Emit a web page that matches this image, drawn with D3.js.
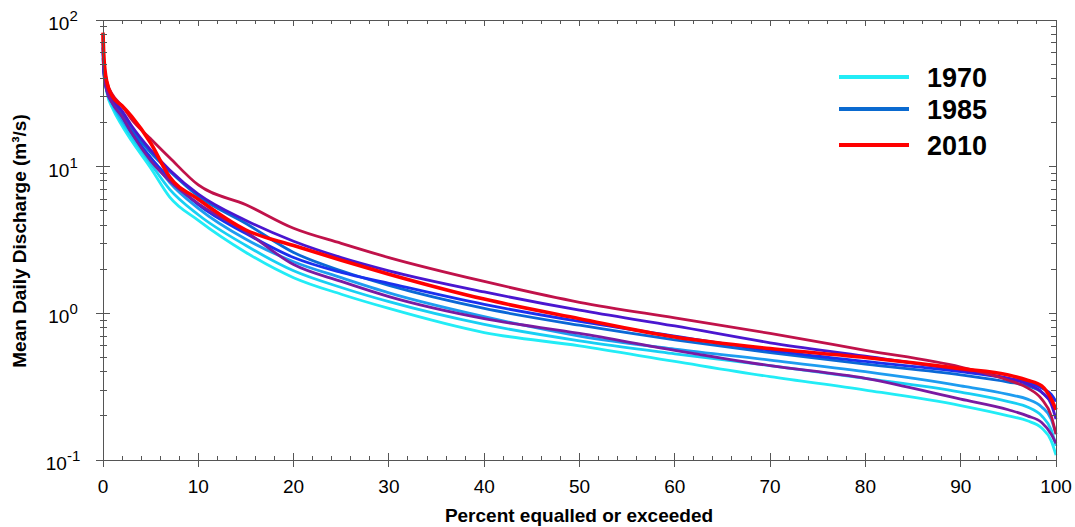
<!DOCTYPE html>
<html>
<head>
<meta charset="utf-8">
<script src="https://cdn.jsdelivr.net/npm/d3@7/dist/d3.min.js"></script>
<style>
  html, body { margin: 0; padding: 0; background: #fff; }
  svg { display: block; font-family: "Liberation Sans", Arial, sans-serif; }
</style>
</head>
<body>
<svg id="chart" width="1075" height="527"></svg>
<script>
// ---------------- DATA ----------------
const percent = [0, 0.1, 0.4, 1, 2, 3, 5, 7, 10, 15, 20, 25, 30, 40, 50, 60, 70, 80, 90, 95, 97, 98.5, 99.5, 100];
const years = [1970, 1975, 1980, 1985, 1990, 1995, 2000, 2005, 2010];
const flow1970 = [75, 48, 32, 25, 19, 15, 9.8, 6.2, 4.3, 2.6, 1.75, 1.35, 1.08, 0.74, 0.60, 0.47, 0.37, 0.30, 0.235, 0.20, 0.185, 0.165, 0.135, 0.108];
const flow1975 = [70, 46, 33, 26, 20, 16, 10.5, 7.0, 4.7, 2.9, 1.95, 1.5, 1.2, 0.84, 0.65, 0.53, 0.44, 0.36, 0.29, 0.25, 0.23, 0.2, 0.16, 0.125];
const flow1980 = [65, 45, 34, 27, 21, 17, 11.5, 7.8, 5.2, 3.2, 2.25, 1.75, 1.38, 0.95, 0.70, 0.57, 0.48, 0.40, 0.32, 0.28, 0.26, 0.23, 0.19, 0.15];
const flow1985 = [55, 44, 35, 28, 23, 18, 12.5, 9.3, 6.3, 4.1, 2.6, 1.95, 1.55, 1.08, 0.83, 0.66, 0.54, 0.45, 0.38, 0.34, 0.32, 0.29, 0.25, 0.22];
const flow1990 = [60, 42, 33, 27, 22, 17, 11.5, 8.3, 5.5, 3.5, 2.4, 1.9, 1.6, 1.15, 0.88, 0.70, 0.56, 0.47, 0.40, 0.36, 0.34, 0.31, 0.28, 0.25];
const flow1995 = [70, 46, 35, 29, 24, 19, 13, 9.5, 6.5, 4.3, 3.1, 2.4, 1.95, 1.4, 1.05, 0.82, 0.63, 0.51, 0.41, 0.36, 0.33, 0.29, 0.24, 0.19];
const flow2000 = [65, 44, 33, 27, 22, 17, 11, 8.0, 5.6, 3.6, 2.15, 1.65, 1.3, 0.92, 0.73, 0.56, 0.44, 0.36, 0.26, 0.22, 0.2, 0.18, 0.15, 0.13];
const flow2005 = [80, 52, 38, 31, 26, 21, 15.5, 11.5, 7.5, 5.5, 3.8, 3.0, 2.4, 1.65, 1.19, 0.93, 0.73, 0.56, 0.43, 0.35, 0.31, 0.26, 0.2, 0.15];
const flow2010 = [82, 55, 38, 30, 26, 22, 14.5, 8.5, 6.0, 3.7, 2.9, 2.3, 1.85, 1.25, 0.92, 0.69, 0.575, 0.50, 0.42, 0.38, 0.35, 0.32, 0.26, 0.22];
const flows = [flow1970, flow1975, flow1980, flow1985, flow1990, flow1995, flow2000, flow2005, flow2010];
const legendYears = [1970, 1985, 2010];
const xTicks = [0, 10, 20, 30, 40, 50, 60, 70, 80, 90, 100];
const yExponents = [-1, 0, 1, 2];
const xLabel = "Percent equalled or exceeded";
const yLabel = "Mean Daily Discharge (m³/s)";

// ---------------- STYLE ----------------
const yearColor = d3.scaleOrdinal()
  .domain(years)
  .range(["#22ecf6", "#18cff4", "#1e9cf0", "#0a68d6", "#1a30ee", "#4a16d0", "#7a1aa2", "#c0124a", "#ff0000"]);
const axisColor = "#555";

const svg = d3.select("#chart");
const L = 103, R = 1056, T = 20, B = 460;
const x = d3.scaleLinear().domain([0, 100]).range([L, R]);
const y = d3.scaleLog().domain([0.1, 100]).range([B, T]);

// curves
const line = d3.line()
  .x(d => x(d[0]))
  .y(d => y(d[1]))
  .curve(d3.curveMonotoneX);

const gLines = svg.append("g");
years.forEach((yr, i) => {
  const pts = percent.map((p, j) => [p, flows[i][j]]);
  gLines.append("path")
    .attr("d", line(pts))
    .attr("fill", "none")
    .attr("stroke", yearColor(yr))
    .attr("stroke-width", yr === 2010 ? 3.6 : 2.8)
    .attr("stroke-linejoin", "round");
});

// frame
const gAx = svg.append("g").attr("stroke", axisColor).attr("stroke-width", 1).attr("shape-rendering", "crispEdges");
gAx.append("line").attr("x1", L).attr("x2", R).attr("y1", B).attr("y2", B);
gAx.append("line").attr("x1", L).attr("x2", R).attr("y1", T).attr("y2", T);
gAx.append("line").attr("x1", L).attr("x2", L).attr("y1", T).attr("y2", B);
gAx.append("line").attr("x1", R).attr("x2", R).attr("y1", T).attr("y2", B);

// x ticks
const xMinor = d3.range(0, 101, 2).filter(v => v % 10 !== 0);
xTicks.forEach(v => {
  gAx.append("line").attr("x1", x(v)).attr("x2", x(v)).attr("y1", B - 7).attr("y2", B + 7);
  gAx.append("line").attr("x1", x(v)).attr("x2", x(v)).attr("y1", T).attr("y2", T + 6);
});
xMinor.forEach(v => {
  gAx.append("line").attr("x1", x(v)).attr("x2", x(v)).attr("y1", B - 4).attr("y2", B);
  gAx.append("line").attr("x1", x(v)).attr("x2", x(v)).attr("y1", T).attr("y2", T + 4);
});

// y ticks
yExponents.forEach(e => {
  const v = Math.pow(10, e);
  gAx.append("line").attr("x1", L - 7).attr("x2", L + 7).attr("y1", y(v)).attr("y2", y(v));
  gAx.append("line").attr("x1", R - 7).attr("x2", R).attr("y1", y(v)).attr("y2", y(v));
  if (e < 2) {
    for (let k = 2; k <= 9; k++) {
      const mv = k * v;
      gAx.append("line").attr("x1", L - 3).attr("x2", L + 4).attr("y1", y(mv)).attr("y2", y(mv));
      gAx.append("line").attr("x1", R - 5).attr("x2", R).attr("y1", y(mv)).attr("y2", y(mv));
    }
  }
});

// x tick labels
svg.append("g").selectAll("text").data(xTicks).join("text")
  .attr("x", d => x(d)).attr("y", B + 33)
  .attr("text-anchor", "middle").attr("font-size", 19).attr("fill", "#000")
  .text(d => d);

// y tick labels
const yl = svg.append("g");
yExponents.forEach(e => {
  const t = yl.append("text")
    .attr("x", 63).attr("y", y(Math.pow(10, e)) + 10)
    .attr("text-anchor", "middle").attr("font-size", 19).attr("fill", "#000");
  t.append("tspan").text("10");
  t.append("tspan").attr("dy", -9).attr("font-size", 15).text(e);
});

// axis titles
svg.append("text")
  .attr("x", 579).attr("y", 522)
  .attr("text-anchor", "middle").attr("font-size", 19).attr("font-weight", "bold")
  .text(xLabel);
svg.append("text")
  .attr("transform", "translate(26,241) rotate(-90)")
  .attr("text-anchor", "middle").attr("font-size", 19).attr("font-weight", "bold")
  .text(yLabel);

// legend
const legY = [77, 109, 145];
const lg = svg.append("g");
legendYears.forEach((yr, i) => {
  lg.append("line").attr("x1", 839).attr("x2", 909).attr("y1", legY[i]).attr("y2", legY[i])
    .attr("stroke", yr === 1985 ? "#0a6ad0" : yearColor(yr)).attr("stroke-width", 4);
  lg.append("text").attr("x", 927).attr("y", legY[i] + 10)
    .attr("font-size", 27).attr("font-weight", "bold").attr("fill", "#000")
    .text(yr);
});
</script>
</body>
</html>
